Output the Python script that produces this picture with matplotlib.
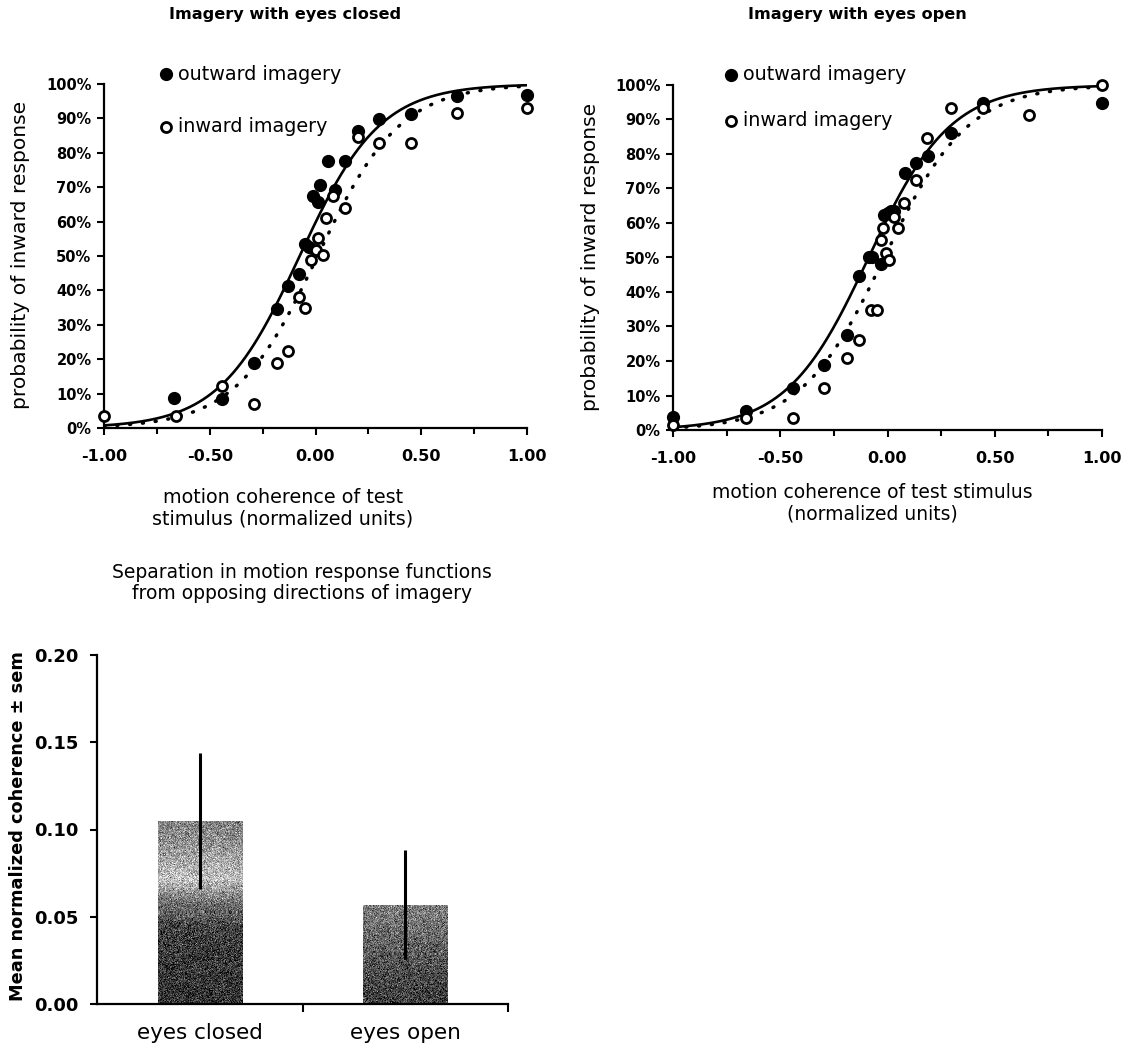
import numpy as np
import matplotlib
matplotlib.use("Agg")
import matplotlib.pyplot as plt
from matplotlib.ticker import MultipleLocator

plt.rcParams['font.family'] = ['DejaVu Sans']
plt.rcParams['axes.unicode_minus'] = False

# ---- Imagery with eyes closed: proportion of "inward" responses (%) ----
closed_out_x = [-0.67, -0.44, -0.29, -0.18, -0.13, -0.08, -0.05, -0.03, -0.01, 0.01,
                0.02, 0.06, 0.09, 0.14, 0.20, 0.30, 0.45, 0.67, 1.00]
closed_out_y = [8.7, 8.5, 18.9, 34.6, 41.3, 44.7, 53.5, 52.5, 67.3, 65.8,
                70.7, 77.6, 69.2, 77.6, 86.4, 89.7, 91.3, 96.5, 96.8]
closed_in_x = [-1.00, -0.66, -0.44, -0.29, -0.18, -0.13, -0.08, -0.05, -0.02, 0.00,
               0.01, 0.035, 0.05, 0.085, 0.14, 0.20, 0.30, 0.45, 0.67, 1.00]
closed_in_y = [3.6, 3.4, 12.3, 7.0, 18.9, 22.5, 38.0, 34.8, 48.9, 51.8,
               55.2, 50.3, 61.0, 67.3, 63.9, 84.5, 82.8, 82.8, 91.5, 92.9]

# ---- Imagery with eyes open ----
open_out_x = [-1.00, -0.66, -0.44, -0.295, -0.187, -0.132, -0.086, -0.07, -0.031, -0.016,
              0.0, 0.015, 0.03, 0.082, 0.135, 0.19, 0.295, 0.443, 1.00]
open_out_y = [3.8, 5.6, 12.1, 18.8, 27.5, 44.6, 50.2, 50.0, 48.1, 62.3,
              63.0, 63.5, 63.5, 74.4, 77.5, 79.4, 86.2, 94.9, 94.7]
open_in_x = [-1.00, -0.66, -0.44, -0.295, -0.187, -0.132, -0.078, -0.047, -0.031, -0.023,
             -0.008, 0.008, 0.031, 0.047, 0.078, 0.132, 0.185, 0.295, 0.443, 0.66, 1.00]
open_in_y = [1.5, 3.4, 3.4, 12.1, 20.8, 26.0, 34.8, 34.8, 55.1, 58.5,
             51.2, 49.3, 61.8, 58.5, 65.7, 72.5, 84.5, 93.2, 93.2, 91.3, 100.0]

# logistic fits (midpoint, slope scale) for each imagery direction
closed_fit_out = (-0.075, 0.19)
closed_fit_in = (0.01, 0.195)
open_fit_out = (-0.088, 0.19)
open_fit_in = (-0.015, 0.195)

# ---- Separation between response functions ----
conditions = ["eyes closed", "eyes open"]
separation = [0.105, 0.057]
separation_sem = [0.039, 0.031]

W, H = 1123, 1050
fig = plt.figure(figsize=(W / 100, H / 100), dpi=100)


def px_box(x0, y0, x1, y1):
    return [x0 / W, 1 - y1 / H, (x1 - x0) / W, (y1 - y0) / H]


def fpt(x, y):
    return x / W, 1 - y / H


def logistic(x, mu, s):
    return 1.0 / (1.0 + np.exp(-(x - mu) / s))


def style_spines(ax):
    for side in ("top", "right"):
        ax.spines[side].set_visible(False)
    for side in ("left", "bottom"):
        ax.spines[side].set_linewidth(1.6)


def psychometric(ax, ox, oy, ix, iy, fit_out, fit_in, legend_xy):
    xs = np.linspace(-1, 1, 500)
    ax.plot(xs, logistic(xs, *fit_out), color="black", lw=1.9, zorder=2)
    ax.plot(xs, logistic(xs, *fit_in), color="black", lw=2.5,
            ls=(0, (0.3, 3.4)), dash_capstyle="round", zorder=2)
    ax.plot(ox, np.asarray(oy) / 100, "o", ms=8.5, mfc="black", mec="black",
            zorder=3, clip_on=False)
    ax.plot(ix, np.asarray(iy) / 100, "o", ms=7.2, mfc="white", mec="black",
            mew=2.0, zorder=4, clip_on=False)
    ax.set_xlim(-1, 1)
    ax.set_ylim(0, 1)
    xt = np.arange(-1, 1.01, 0.5)
    ax.set_xticks(xt, labels=["%.2f" % v for v in xt], fontweight="bold", fontsize=11.5)
    ax.xaxis.set_minor_locator(MultipleLocator(0.25))
    yt = np.arange(0, 1.001, 0.1)
    ax.set_yticks(yt, labels=["%d%%" % round(v * 100) for v in yt],
                  fontweight="bold", fontsize=10.5)
    ax.tick_params(axis="x", which="both", direction="out", length=5, width=1.5, pad=10)
    ax.tick_params(axis="x", which="minor", length=4)
    ax.tick_params(axis="y", direction="out", length=5, width=1.5, pad=4)
    style_spines(ax)
    # key for the two imagery directions
    (lx, ly1), ly2 = legend_xy
    fig.add_artist(plt.Line2D([lx / W], [1 - ly1 / H], marker="o", ms=8.5,
                              mfc="black", mec="black", ls="none"))
    fig.add_artist(plt.Line2D([lx / W], [1 - ly2 / H], marker="o", ms=7.2,
                              mfc="white", mec="black", mew=2.0, ls="none"))
    fig.text(*fpt(lx + 12, ly1), "outward imagery", fontsize=13.8, va="center", ha="left")
    fig.text(*fpt(lx + 12, ly2), "inward imagery", fontsize=13.8, va="center", ha="left")


ax1 = fig.add_axes(px_box(104, 84, 527, 428))
psychometric(ax1, closed_out_x, closed_out_y, closed_in_x, closed_in_y,
             closed_fit_out, closed_fit_in, ((166, 74), 127))
fig.text(*fpt(285, 15), "Imagery with eyes closed", fontsize=11.6, fontweight="bold",
         ha="center", va="center")
fig.text(*fpt(283, 508), "motion coherence of test\nstimulus (normalized units)",
         fontsize=13.8, ha="center", va="center", linespacing=1.15)
fig.text(*fpt(21, 255), "probability of inward response", fontsize=14.6,
         rotation=90, ha="center", va="center")

ax2 = fig.add_axes(px_box(673, 85, 1102, 430))
psychometric(ax2, open_out_x, open_out_y, open_in_x, open_in_y,
             open_fit_out, open_fit_in, ((731, 75), 121))
fig.text(*fpt(857, 15), "Imagery with eyes open", fontsize=11.6, fontweight="bold",
         ha="center", va="center")
fig.text(*fpt(872, 503), "motion coherence of test stimulus\n(normalized units)",
         fontsize=13.5, ha="center", va="center", linespacing=1.15)
fig.text(*fpt(590, 257), "probability of inward response", fontsize=14.6,
         rotation=90, ha="center", va="center")

# ---- bar chart ----
ax3 = fig.add_axes(px_box(97, 655, 508, 1004))
pos = np.arange(len(conditions))
bars = ax3.bar(pos, separation, width=0.41, color="none", edgecolor="none", zorder=2)

# grainy grey fill for each bar
rng = np.random.default_rng(7)
shade_profiles = [
    ([0.0, 0.40, 0.55, 0.68, 0.78, 0.90, 1.0], [0.20, 0.24, 0.45, 0.76, 0.66, 0.55, 0.52]),
    ([0.0, 0.35, 0.70, 1.0], [0.24, 0.30, 0.42, 0.50]),
]
for bar, (fx, fv) in zip(bars, shade_profiles):
    x0, w, h = bar.get_x(), bar.get_width(), bar.get_height()
    rows, cols = int(round(h / 0.2 * 349)), 85
    t = np.linspace(1, 0, rows)
    base = np.interp(t, fx, fv)[:, None] * np.ones((rows, cols))
    tex = np.clip(base + rng.normal(0, 0.13, base.shape), 0, 1)
    im = ax3.imshow(tex, cmap="gray", vmin=0, vmax=1, extent=(x0, x0 + w, 0, h),
                    aspect="auto", interpolation="nearest", zorder=2)
    im.set_clip_path(bar)

ax3.errorbar(pos, separation, yerr=separation_sem, fmt="none", ecolor="black",
             elinewidth=2.2, capsize=0, zorder=3)
ax3.set_xlim(-0.5, 1.5)
ax3.set_ylim(0, 0.2)
ax3.set_xticks(pos, labels=conditions, fontsize=15.5)
ax3.tick_params(axis="x", which="major", length=0, pad=14)
ax3.set_xticks([0.5, 1.5], minor=True)
ax3.tick_params(axis="x", which="minor", direction="out", length=6, width=1.5)
yt = np.arange(0, 0.2001, 0.05)
ax3.set_yticks(yt, labels=["%.2f" % v for v in yt], fontsize=13, fontweight="bold")
ax3.tick_params(axis="y", direction="out", length=5, width=1.5, pad=8)
style_spines(ax3)
fig.text(*fpt(302, 583), "Separation in motion response functions\nfrom opposing directions of imagery",
         fontsize=13.5, ha="center", va="center", linespacing=1.15)
fig.text(*fpt(18, 826), "Mean normalized coherence \u00b1 sem", fontsize=12.8,
         fontweight="bold", rotation=90, ha="center", va="center")

fig.savefig("out.png", dpi=100)
